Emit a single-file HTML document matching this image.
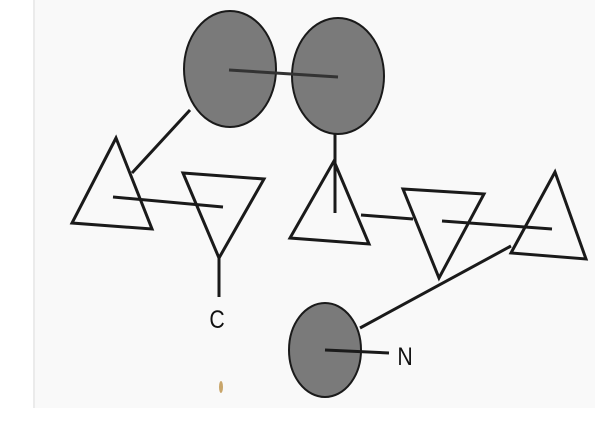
<!DOCTYPE html>
<html><head><meta charset="utf-8"><style>
html,body{margin:0;padding:0;background:#fff;}
svg{display:block;}
</style></head><body>
<svg width="595" height="437" viewBox="0 0 595 437">
<rect x="33" y="0" width="562" height="408" fill="#f9f9f9"/>
<line x1="34" y1="0" x2="34" y2="408" stroke="#ddd" stroke-width="1"/>
<g stroke="#1a1a1a" stroke-width="3" fill="none">
<ellipse cx="230" cy="69" rx="46" ry="58" fill="#7a7a7a" stroke-width="2"/>
<ellipse cx="338" cy="76" rx="46" ry="58" fill="#7a7a7a" stroke-width="2"/>
<line x1="229" y1="70" x2="338" y2="77" stroke="#333"/>
<line x1="190" y1="110" x2="132" y2="173"/>
<polygon points="116,138 72,223 152,229"/>
<line x1="113" y1="197" x2="223" y2="207"/>
<polygon points="183,173 264,179 219,258"/>
<line x1="219" y1="258" x2="219" y2="297"/>
<line x1="335" y1="134" x2="335" y2="213"/>
<polygon points="334,161 290,238 369,244"/>
<line x1="361" y1="215" x2="413" y2="219"/>
<polygon points="403,189 484,194 439,278"/>
<line x1="442" y1="221" x2="552" y2="229"/>
<polygon points="555,172 511,253 586,259"/>
<line x1="511" y1="246" x2="360" y2="328"/>
<ellipse cx="325" cy="350" rx="36" ry="47" fill="#7a7a7a" stroke-width="2"/>
<line x1="325" y1="350" x2="389" y2="353"/>
</g>
<text x="217" y="328" font-family="Liberation Sans, sans-serif" font-size="25" fill="#111" text-anchor="middle" transform="translate(217,328) scale(0.85,1) translate(-217,-328)">C</text>
<text x="405" y="365" font-family="Liberation Sans, sans-serif" font-size="25" fill="#111" text-anchor="middle" transform="translate(405,365) scale(0.85,1) translate(-405,-365)">N</text>
<ellipse cx="221" cy="387" rx="2" ry="6" fill="#c9a66b"/>
</svg>
</body></html>
